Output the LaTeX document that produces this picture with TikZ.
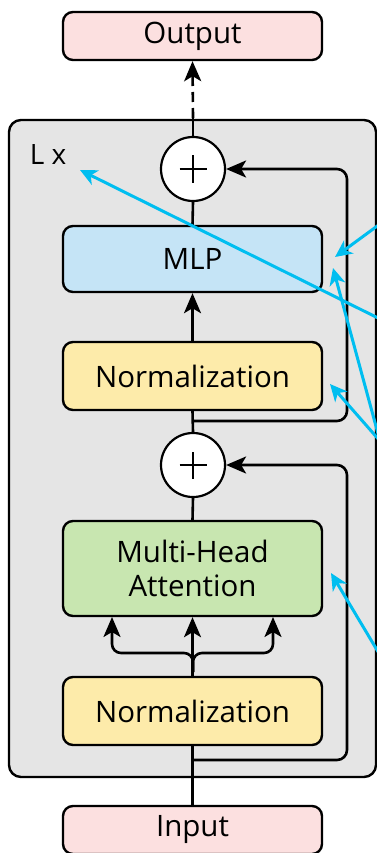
\documentclass[tikz,border=0pt]{standalone}
\usepackage{fontspec}
\setmainfont{Open Sans}
\usetikzlibrary{arrows.meta,calc}

\definecolor{iopink}{RGB}{252,224,224}
\definecolor{mlpblue}{RGB}{197,228,246}
\definecolor{normyellow}{RGB}{253,235,170}
\definecolor{attgreen}{RGB}{200,230,176}
\definecolor{blockgray}{RGB}{229,229,229}
\definecolor{callout}{RGB}{0,190,240}

\tikzset{
  box/.style={draw=black, line width=2.4pt, rounded corners=10pt,
    minimum width=259pt, inner sep=0pt, align=center,
    font=\fontsize{29.5}{34}\selectfont},
  addnode/.style={circle, draw=black, fill=white, line width=2.2pt,
    minimum size=64pt, inner sep=0pt,
    path picture={
      \draw[line width=2.2pt]
        ($(path picture bounding box.center)+(-13.5pt,0)$) -- ++(27pt,0)
        ($(path picture bounding box.center)+(0,-13.5pt)$) -- ++(0,27pt);
    }},
  flow/.style={draw=black, line width=2.6pt},
  tip/.style={-{Stealth[length=20pt,width=17pt,inset=5pt]}},
  note/.style={draw=callout, line width=3pt,
    -{Stealth[length=17pt,width=16pt,inset=5pt]}},
}

\begin{document}
\begin{tikzpicture}[x=1pt,y=-1pt]
\useasboundingbox (0,0) rectangle (377,853);

% repeated block
\draw[fill=blockgray, draw=black, line width=2.4pt, rounded corners=12pt]
  (9,120) rectangle (376,777);
\node[font=\fontsize{28}{32}\selectfont] (lx) at (48,155) {L x};

% nodes
\node[box, fill=iopink, minimum height=48pt] (out) at (192.5,36) {Output};
\node[addnode] (c1) at (193,169) {};
\node[box, fill=mlpblue, minimum height=66pt] (mlp) at (192.5,259) {MLP};
\node[box, fill=normyellow, minimum height=68pt] (nt) at (192.5,376) {Normalization};
\node[addnode] (c2) at (193,465) {};
\node[box, fill=attgreen, minimum height=95pt] (att) at (192.5,568.5) {Multi-Head\\Attention};
\node[box, fill=normyellow, minimum height=68pt] (nb) at (192.5,711) {Normalization};
\node[box, fill=iopink, minimum height=48pt] (in) at (192.5,830) {Input};

% helper points
\coordinate (gtop) at (193,118);
\coordinate (split) at (193,672);
\coordinate (r1) at (193,760);
\coordinate (r2) at (193,421);

% main path
\draw[flow] (in.north) -- (nb.south);
\draw[flow, tip] (nb.north) -- (att.south);
\draw[flow, tip, rounded corners=9pt] (split) |- (112,653) -- (112,617);
\draw[flow, tip, rounded corners=9pt] (split) |- (273,653) -- (273,617);
\draw[flow] (att.north) -- (c2.south);
\draw[flow] (c2.north) -- (nt.south);
\draw[flow, tip] (nt.north) -- (mlp.south);
\draw[flow] (mlp.north) -- (c1.south);
\draw[flow] (c1.north) -- (gtop);
\draw[flow, tip, dash pattern=on 10pt off 6pt] (gtop) -- (out.south);

% residual connections
\draw[flow, tip, rounded corners=10pt] (r1) -- (347,760) -- (347,465) -- (c2.east);
\draw[flow, tip, rounded corners=10pt] (r2) -- (347,421) -- (347,169) -- (c1.east);

% callout arrows
\coordinate (a1) at (380,224);
\coordinate (a2) at (380,319);
\coordinate (a3) at (380,441);
\coordinate (a4) at (380,655);
\draw[note] (a1) -- (335,257);
\draw[note] (a2) -- (80,170);
\draw[note] (a3) -- (333,268);
\draw[note] (a3) -- (330,384);
\draw[note] (a4) -- (331,573);
\end{tikzpicture}
\end{document}
